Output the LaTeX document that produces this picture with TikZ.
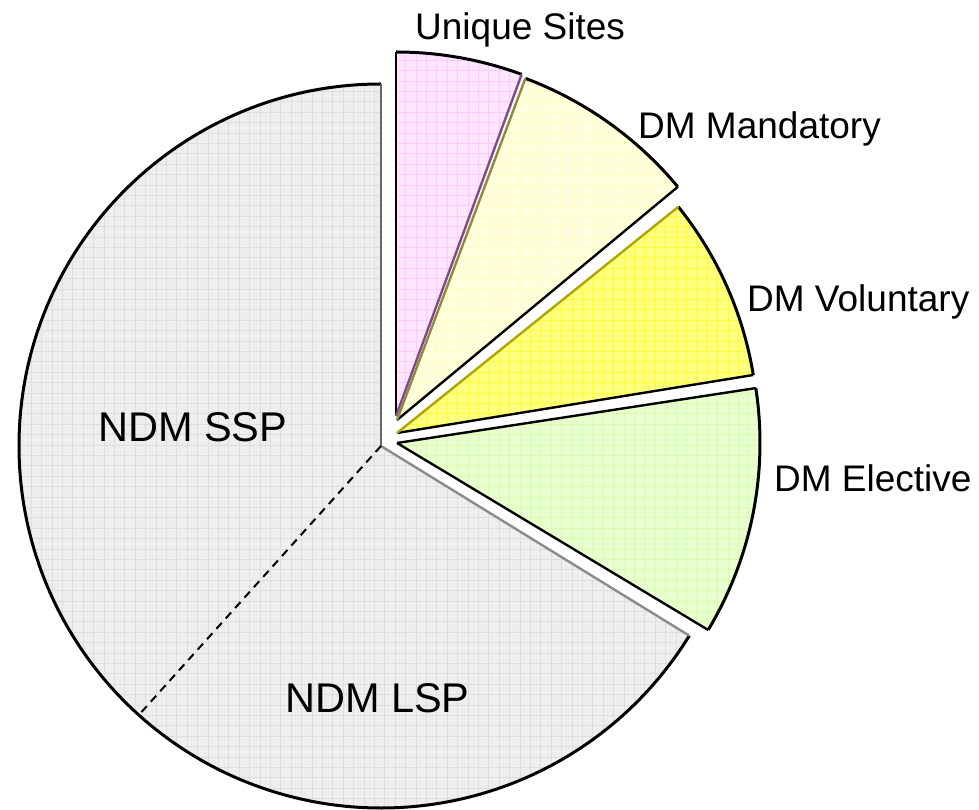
\documentclass[tikz,border=0pt]{standalone}
\usepackage{fontspec}
\setmainfont{Liberation Sans}
\usetikzlibrary{positioning, calc}
\definecolor{ndmfill}{HTML}{EEEEEE}
\definecolor{ndmgrid}{HTML}{DEDEDE}
\definecolor{unifill}{HTML}{FFE6FF}
\definecolor{unigrid}{HTML}{FFCAFF}
\definecolor{manfill}{HTML}{FFFFE0}
\definecolor{mangrid}{HTML}{FFFFBE}
\definecolor{volfill}{HTML}{FFFF80}
\definecolor{volgrid}{HTML}{FFFF38}
\definecolor{elefill}{HTML}{E8FFD0}
\definecolor{elegrid}{HTML}{D8FFAC}
\tikzset{
  rim/.style={line width=3pt, black},
  side/.style={line width=2.4pt, black},
  gridline/.style={line width=0.8pt},
  biglbl/.style={inner sep=0pt, font=\fontsize{41.5}{44}\selectfont},
  smalllbl/.style={inner sep=0pt, font=\fontsize{37}{40}\selectfont},
}
% one slice: center, radius, start angle, end angle, fill, grid
\newcommand{\pieslice}[6]{%
  \begin{scope}
    \clip (#1) -- ++(#3:#2) arc[start angle=#3, end angle=#4, radius=#2] -- cycle;
    \fill[#5] (0,0) rectangle (979,809);
    \draw[gridline, #6, step=10.4] (0,0) grid (979,809);
  \end{scope}
  \draw[rim] (#1) ++(#3:#2) arc[start angle=#3, end angle=#4, radius=#2];
}

\begin{document}
\begin{tikzpicture}[x=1pt, y=1pt]
\useasboundingbox (0,0) rectangle (979,809);
\coordinate (cN) at (381,363);
\coordinate (cU) at (396,393);
\coordinate (cM) at (397,389);
\coordinate (cV) at (397,376);
\coordinate (cE) at (397,366);

% grey part, not pulled out
\pieslice{cN}{362}{90}{228}{ndmfill}{ndmgrid}
\pieslice{cN}{362}{228}{328.4}{ndmfill}{ndmgrid}
\draw[side, color=black!60] (cN) -- ++(90:362);
\draw[side, color=black!45] (cN) -- ++(328.4:362);
\draw[line width=2pt, dash pattern=on 8pt off 6pt] (cN) -- ++(228:362);

% pulled out slices
\pieslice{cU}{364}{69.8}{90}{unifill}{unigrid}
\draw[side] (cU) -- ++(90:364);
\draw[side, color=violet!40!gray] (cU) -- ++(69.8:364);

\pieslice{cM}{365}{39.7}{69.4}{manfill}{mangrid}
\draw[side] (cM) -- ++(39.7:365);
\draw[side, color=olive!55!gray] (cM) -- ++(69.4:365);

\pieslice{cV}{361}{9.25}{38.8}{volfill}{volgrid}
\draw[side] (cV) -- ++(9.25:361);
\draw[side, color=olive!70!yellow] (cV) -- ++(38.8:361);

\pieslice{cE}{363}{-31}{8.7}{elefill}{elegrid}
\draw[side] (cE) -- ++(8.7:363);
\draw[side] (cE) -- ++(-31:363);

% labels
\node[smalllbl, anchor=base west] (uniq) at (415,769) {Unique Sites};
\node[smalllbl, anchor=base west] (mand) at (638,670) {DM Mandatory};
\node[smalllbl, anchor=base west] (volu) at (747,497) {DM Voluntary};
\node[smalllbl, anchor=base west] (elec) at (774,317) {DM Elective};
\node[biglbl, anchor=base west] (ssp) at (98,367) {NDM SSP};
\node[biglbl, anchor=base west] (lsp) at (285,97) {NDM LSP};
\end{tikzpicture}
\end{document}
